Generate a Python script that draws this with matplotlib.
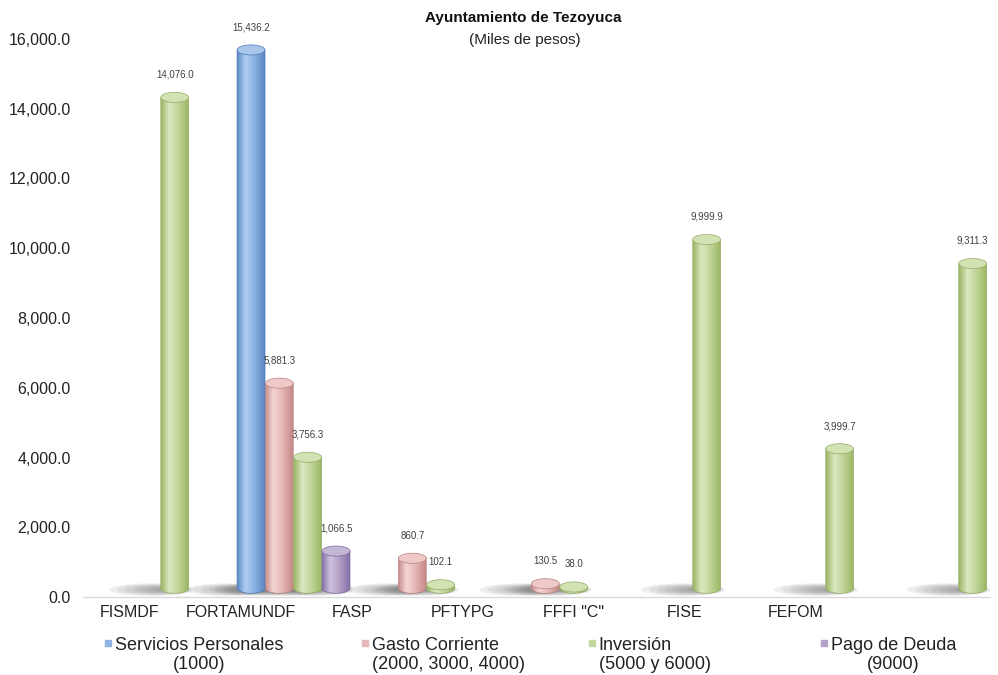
import numpy as np
import matplotlib.pyplot as plt
from matplotlib.colors import LinearSegmentedColormap
from matplotlib.patches import Ellipse, Polygon
from matplotlib.lines import Line2D

plt.rcParams['font.family'] = ['Liberation Sans', 'DejaVu Sans']

# Data (miles de pesos)
categories = ["FISMDF", "FORTAMUNDF", "FASP", "PFTYPG", 'FFFI "C"', "FISE", "FEFOM"]
series_names = ["Servicios Personales\n(1000)",
                "Gasto Corriente\n(2000, 3000, 4000)",
                "Inversión\n(5000 y 6000)",
                "Pago de Deuda\n(9000)"]
servicios = [np.nan, 15436.2, np.nan, np.nan, np.nan, np.nan, np.nan]
gasto = [np.nan, 5881.3, 860.7, 130.5, np.nan, np.nan, np.nan]
inversion = [14076.0, 3756.3, 102.1, 38.0, 9999.9, 3999.7, 9311.3]
deuda = [np.nan, 1066.5, np.nan, np.nan, np.nan, np.nan, np.nan]
yticks = np.arange(0, 16001, 2000)

# (dark side, highlight, mid, top, edge, legend)
styles = [
    ("#5A87C5", "#B0CDF0", "#8DB4E2", "#A8C6EC", "#5079B5", "#8DB4E2"),
    ("#C48988", "#F5D5D4", "#E6B9B8", "#EEC9C8", "#B98281", "#E6B9B8"),
    ("#9AB562", "#DCE9C2", "#C3D69B", "#D3E2B3", "#93AC67", "#C3D69B"),
    ("#8670A8", "#CFC3E0", "#B3A2C7", "#C4B7D6", "#7D68A0", "#B3A2C7"),
]

FLOOR = 250      # raised 3D floor
EH = 290         # ellipse height in data units
SLOT = 0.213
WIDTH = 0.21


def cylinder(ax, bar, style, value):
    dark, light, mid, top_c, edge, _ = style
    x0, w = bar.get_x(), bar.get_width()
    y0, h = bar.get_y(), bar.get_height()
    xc = x0 + w / 2
    y1 = y0 + h

    # soft shadow on the floor, thrown to the left of the base
    for i in range(7):
        s = 1 - i * 0.12
        ax.add_patch(Ellipse((xc - w * 0.85 * s, y0 - 40), w * 3.0 * s, 360 * s,
                             facecolor="#4a4a4a", alpha=0.09, lw=0, zorder=1))

    ang = np.linspace(np.pi, 2 * np.pi, 40)
    pts = [(x0, y1)] + [(xc + w / 2 * np.cos(t), y0 + EH / 2 * np.sin(t)) for t in ang] + [(x0 + w, y1)]
    body = Polygon(pts, closed=True, facecolor="none", edgecolor=edge, lw=0.5, zorder=3)
    ax.add_patch(body)
    cmap = LinearSegmentedColormap.from_list(
        "cyl", [(0, dark), (0.3, light), (0.6, mid), (1, dark)], N=256)
    grad = np.linspace(0, 1, 256).reshape(1, -1)
    im = ax.imshow(grad, cmap=cmap, extent=[x0, x0 + w, y0 - EH / 2, y1],
                   aspect="auto", zorder=2, interpolation="bicubic")
    im.set_clip_path(body)
    ax.add_patch(Ellipse((xc, y1), w, EH, facecolor=top_c, edgecolor=edge, lw=0.5, zorder=4))

    ax.annotate(f"{value:,.1f}", (xc, y1 + EH / 2), xytext=(0, 9), textcoords="offset points",
                ha="center", va="bottom", fontsize=7, color="#404040")


fig = plt.figure(figsize=(9.98, 6.75), dpi=100)
ax = fig.add_axes([83 / 998, 1 - 597 / 675, (990 - 83) / 998, (597 - 39) / 675])

x = np.arange(len(categories))
for k, vals in enumerate([servicios, gasto, inversion, deuda]):
    bars = ax.bar(x + (k - 1.5) * SLOT, vals, width=WIDTH, bottom=FLOOR,
                  color="none", edgecolor="none")
    for b, v in zip(bars, vals):
        if np.isnan(v):
            continue
        cylinder(ax, b, styles[k], v)

ax.set_xlim(-0.583, 6.237)
ax.set_ylim(0, 16000)
ax.set_yticks(yticks)
ax.set_yticklabels([f"{v:,.1f}" for v in yticks], fontsize=11.5, color="#222222")
ax.set_xticks([])
ax.tick_params(axis="y", length=0, pad=9)
for side in ["top", "right", "left"]:
    ax.spines[side].set_visible(False)
ax.spines["bottom"].set_color("#D9D9D9")
ax.spines["bottom"].set_linewidth(1.0)

# category labels on the front plane
lab_ax = ax.twiny()
lab_ax.xaxis.set_ticks_position("bottom")
lab_ax.set_xlim(-0.423, 7.75)
lab_ax.set_xticks(x)
lab_ax.set_xticklabels(categories, fontsize=11.5, color="#222222")
lab_ax.tick_params(axis="x", length=0, pad=6)
for s in lab_ax.spines.values():
    s.set_visible(False)

fig.text(523 / 998, 1 - 18 / 675, "Ayuntamiento de Tezoyuca", ha="center", va="center",
         fontsize=11, fontweight="bold", color="#111111")
fig.text(525 / 998, 1 - 40 / 675, "(Miles de pesos)", ha="center", va="center",
         fontsize=11, color="#222222")

# legend: one entry per slot, like the spreadsheet layout
leg_x = [103, 360, 587, 819]
aligns = ["center", "left", "left", "center"]
for name, st, lx, al in zip(series_names, styles, leg_x, aligns):
    h = Line2D([], [], marker="s", ls="none", markersize=5, color=st[5])
    lg = fig.legend([h], [name], loc="upper left", bbox_to_anchor=(lx / 998, 1 - 637 / 675),
                    frameon=False, fontsize=13, handlelength=0.5, handletextpad=0.15,
                    borderpad=0, borderaxespad=0, labelcolor="#222222")
    for t in lg.get_texts():
        t.set_multialignment(al)
        t.set_linespacing(1.15)
    for col in lg._legend_handle_box.get_children():
        for row in col.get_children():
            row.align = "top"

fig.savefig("out.png", dpi=100)
